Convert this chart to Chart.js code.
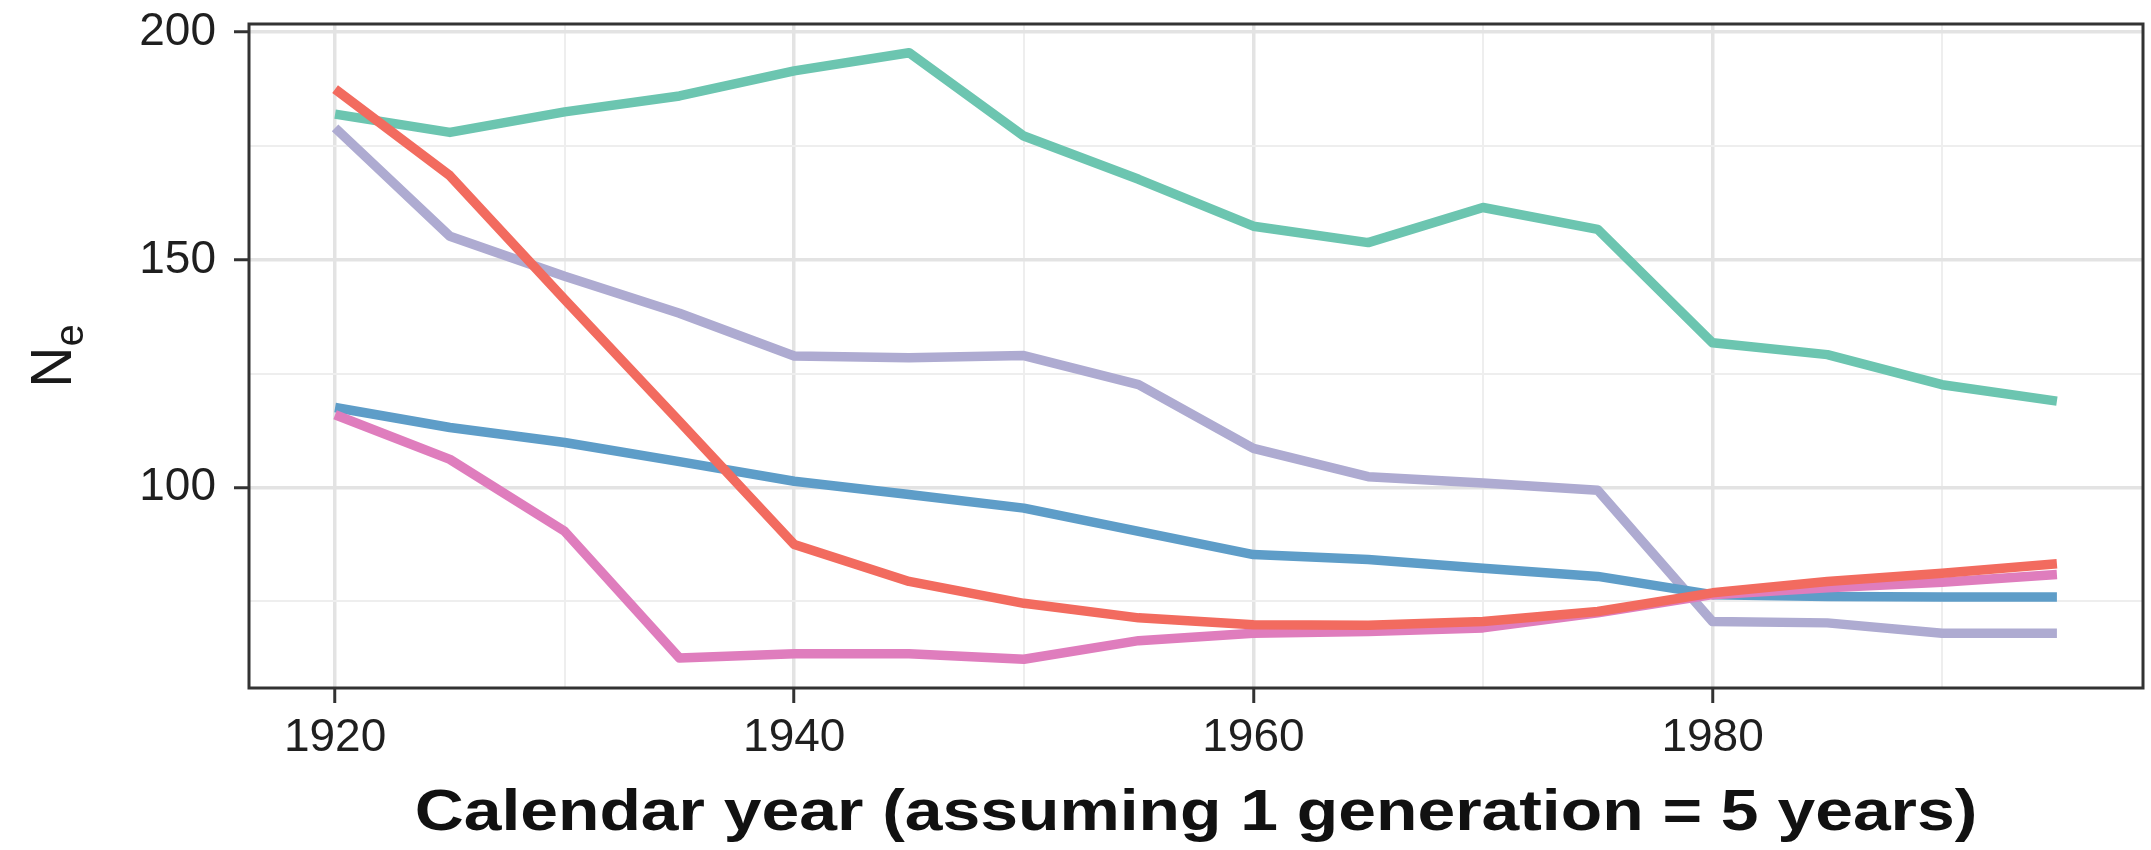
<!DOCTYPE html>
<html>
<head>
<meta charset="utf-8">
<script src="https://cdn.jsdelivr.net/npm/chart.js@4/dist/chart.umd.min.js"></script>
<style>
  html, body { margin: 0; padding: 0; background: #ffffff; }
  #wrap { width: 2151px; height: 850px; }
</style>
</head>
<body>
<div id="wrap"><canvas id="c" width="2151" height="850"></canvas></div>
<script>
// Calendar years (one generation = 5 years)
const years = [1920, 1925, 1930, 1935, 1940, 1945, 1950, 1955,
               1960, 1965, 1970, 1975, 1980, 1985, 1990, 1995];

// Effective population size estimates, one series per group
const seriesTeal = [182.0, 178.0, 182.5, 186.0, 191.5, 195.5, 177.2, 167.7,
                    157.4, 153.8, 161.5, 156.7, 131.8, 129.2, 122.6, 119.0];
const seriesLavender = [179.0, 155.2, 146.4, 138.3, 128.9, 128.5, 129.0, 122.6,
                        108.6, 102.4, 101.0, 99.4, 70.6, 70.3, 68.0, 68.0];
const seriesBlue = [117.6, 113.2, 109.9, 105.7, 101.4, 98.5, 95.5, 90.4,
                    85.3, 84.2, 82.3, 80.5, 76.5, 76.1, 76.0, 76.0];
const seriesPink = [116.0, 106.2, 90.4, 62.6, 63.5, 63.5, 62.3, 66.4,
                    68.0, 68.4, 69.2, 72.5, 76.5, 78.0, 79.2, 80.9];
const seriesRed = [187.5, 168.5, 141.3, 114.5, 87.5, 79.4, 74.6, 71.4,
                   69.9, 69.8, 70.6, 72.8, 76.9, 79.4, 81.2, 83.3];

// Axis ticks: labelled (major) and unlabelled (minor) grid positions
const xMajorTicks = [1920, 1940, 1960, 1980];
const xMinorTicks = [1930, 1950, 1970, 1990];
const yMajorTicks = [100, 150, 200];
const yMinorTicks = [75, 125, 175];

const xRange = [1916.25, 1998.75];
const yRange = [56.0, 201.8];

const xTitle = 'Calendar year (assuming 1 generation = 5 years)';
const yTitleMain = 'N';
const yTitleSub = 'e';

const FONT = "'Liberation Sans', Arial, Helvetica, sans-serif";

function toPoints(vals) {
  return years.map((y, i) => ({ x: y, y: vals[i] }));
}

function lineSet(vals, color) {
  return {
    data: toPoints(vals),
    borderColor: color,
    backgroundColor: color,
    borderWidth: 9.5,
    pointRadius: 0,
    pointHoverRadius: 0,
    tension: 0,
    borderCapStyle: 'butt',
    borderJoinStyle: 'round',
    fill: false
  };
}

function allTicks(major, minor) {
  return major.concat(minor).sort((a, b) => a - b).map(v => ({ value: v }));
}

// Full panel frame plus both axis titles (the y title carries a subscript)
const panelDecor = {
  id: 'panelDecor',
  afterDatasetsDraw(chart) {
    const { ctx, chartArea: a } = chart;
    ctx.save();
    ctx.strokeStyle = '#333333';
    ctx.lineWidth = 3;
    ctx.strokeRect(a.left, a.top, a.right - a.left, a.bottom - a.top);
    ctx.restore();
  },
  afterDraw(chart) {
    const { ctx, chartArea: a } = chart;

    // y axis title: N with subscript e, rotated
    ctx.save();
    ctx.fillStyle = '#1a1a1a';
    const mainFont = '57px ' + FONT;
    const subFont = '40px ' + FONT;
    ctx.font = mainFont;
    const wN = ctx.measureText(yTitleMain).width;
    ctx.font = subFont;
    const wE = ctx.measureText(yTitleSub).width;
    const total = wN + wE;
    const cy = (a.top + a.bottom) / 2;
    ctx.translate(a.left - 178, cy + total / 2);
    ctx.rotate(-Math.PI / 2);
    ctx.textBaseline = 'alphabetic';
    ctx.textAlign = 'left';
    ctx.font = mainFont;
    ctx.fillText(yTitleMain, 0, 0);
    ctx.font = subFont;
    ctx.fillText(yTitleSub, wN, 12);
    ctx.restore();

    // x axis title, set in a wide bold face
    ctx.save();
    ctx.fillStyle = '#111111';
    ctx.font = 'bold 57px ' + FONT;
    ctx.textAlign = 'center';
    ctx.textBaseline = 'alphabetic';
    ctx.translate((a.left + a.right) / 2, a.bottom + 142);
    ctx.scale(1.19, 1);
    ctx.fillText(xTitle, 0, 0);
    ctx.restore();
  }
};

const gridColor = (major) => (ctx) =>
  ctx.tick && major.includes(ctx.tick.value) ? '#e3e3e3' : '#eeeeee';
const gridWidth = (major) => (ctx) =>
  ctx.tick && major.includes(ctx.tick.value) ? 3.5 : 2;
const tickColor = (major) => (ctx) =>
  ctx.tick && major.includes(ctx.tick.value) ? '#333333' : 'rgba(0,0,0,0)';

new Chart(document.getElementById('c'), {
  type: 'line',
  data: {
    datasets: [
      lineSet(seriesRed, '#f26b5f'),
      lineSet(seriesPink, '#df7dbd'),
      lineSet(seriesBlue, '#5e9dc8'),
      lineSet(seriesLavender, '#aeabd1'),
      lineSet(seriesTeal, '#6cc5b0')
    ]
  },
  options: {
    responsive: false,
    devicePixelRatio: 1,
    animation: false,
    events: [],
    layout: { padding: { left: 0, right: 8, top: 24, bottom: 0 } },
    plugins: {
      legend: { display: false },
      tooltip: { enabled: false },
      title: { display: false }
    },
    scales: {
      x: {
        type: 'linear',
        min: xRange[0],
        max: xRange[1],
        afterBuildTicks(scale) { scale.ticks = allTicks(xMajorTicks, xMinorTicks); },
        afterFit(scale) {
          scale.height = 162;
          scale.paddingLeft = 0; scale.paddingRight = 0;
          scale.paddingTop = 0; scale.paddingBottom = 0;
        },
        border: { display: false },
        grid: {
          color: gridColor(xMajorTicks),
          lineWidth: gridWidth(xMajorTicks),
          tickColor: tickColor(xMajorTicks),
          tickWidth: 3,
          tickLength: 15,
          drawOnChartArea: true
        },
        ticks: {
          autoSkip: false,
          maxRotation: 0,
          padding: 8,
          color: '#1f1f1f',
          font: { family: FONT, size: 46 },
          callback: (v) => xMajorTicks.includes(v) ? String(v) : ''
        },
        title: { display: false }
      },
      y: {
        type: 'linear',
        min: yRange[0],
        max: yRange[1],
        afterBuildTicks(scale) { scale.ticks = allTicks(yMajorTicks, yMinorTicks); },
        afterFit(scale) {
          scale.width = 249;
          scale.paddingLeft = 0; scale.paddingRight = 0;
          scale.paddingTop = 0; scale.paddingBottom = 0;
        },
        border: { display: false },
        grid: {
          color: gridColor(yMajorTicks),
          lineWidth: gridWidth(yMajorTicks),
          tickColor: tickColor(yMajorTicks),
          tickWidth: 3,
          tickLength: 15
        },
        ticks: {
          autoSkip: false,
          padding: 18,
          color: '#1f1f1f',
          font: { family: FONT, size: 46 },
          callback: (v) => yMajorTicks.includes(v) ? String(v) : ''
        }
      }
    }
  },
  plugins: [panelDecor]
});
</script>
</body>
</html>
